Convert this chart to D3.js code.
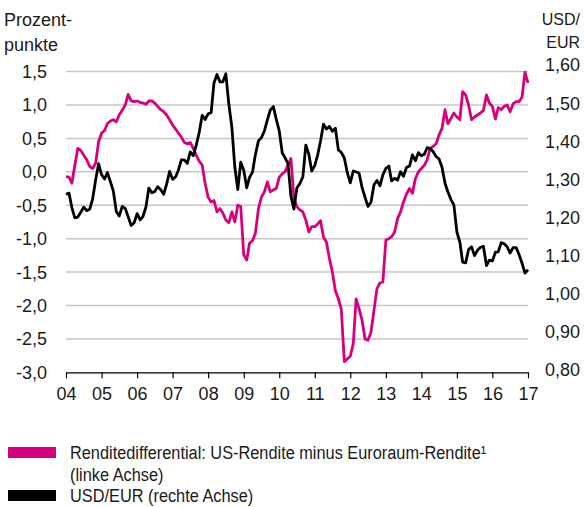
<!DOCTYPE html>
<html>
<head>
<meta charset="utf-8">
<script src="https://cdn.jsdelivr.net/npm/d3@7"></script>
<style>
  body { margin: 0; background: #fff; }
  text { font-family: "Liberation Sans", Arial, sans-serif; fill: #1a1a1a; }
</style>
</head>
<body>
<div id="container"></div>
<script>
// monthly values, Jan 2004 .. Jan 2017
const startYear = 2004

const spread = [
  -0.07, -0.08, -0.17, 0.10, 0.35, 0.32, 0.25, 0.18, 0.08, 0.05, 0.13, 0.45,
  0.58, 0.62, 0.72, 0.76, 0.78, 0.75, 0.85, 0.92, 1.00, 1.16, 1.06, 1.05,
  1.06, 1.04, 1.03, 1.01, 1.06, 1.06, 1.03, 0.98, 0.93, 0.90, 0.85, 0.78,
  0.70, 0.64, 0.58, 0.52, 0.44, 0.42, 0.44, 0.35, 0.25, 0.16, 0.10, -0.17,
  -0.38, -0.45, -0.43, -0.60, -0.55, -0.62, -0.72, -0.76, -0.60, -0.75, -0.50, -0.52,
  -1.24, -1.32, -1.07, -1.03, -0.92, -0.55, -0.38, -0.30, -0.15, -0.30, -0.27, -0.25,
  -0.08, -0.03, 0.00, 0.10, 0.20, -0.40, -0.52, -0.57, -0.60, -0.72, -0.90, -0.82,
  -0.82, -0.78, -0.73, -0.98, -1.05, -1.30, -1.50, -1.78, -1.90, -2.06, -2.84, -2.80,
  -2.76, -2.57, -1.90, -2.05, -2.22, -2.50, -2.52, -2.40, -2.07, -1.75, -1.66, -1.65,
  -1.02, -1.00, -0.97, -0.90, -0.70, -0.60, -0.45, -0.33, -0.25, -0.32, -0.10, 0.00,
  0.05, 0.10, 0.18, 0.35, 0.38, 0.42, 0.55, 0.65, 0.93, 0.72, 0.80, 0.88,
  0.82, 0.78, 1.20, 1.15, 1.00, 0.78, 0.82, 0.85, 0.88, 0.92, 1.15, 1.03,
  0.98, 0.79, 0.96, 0.93, 0.98, 1.00, 0.90, 1.02, 1.05, 1.05, 1.12, 1.49,
  1.33
]

const usdEur = [
  1.261, 1.264, 1.226, 1.199, 1.201, 1.214, 1.227, 1.218, 1.222, 1.249, 1.299, 1.341,
  1.312, 1.301, 1.318, 1.294, 1.270, 1.216, 1.204, 1.229, 1.224, 1.202, 1.179, 1.186,
  1.210, 1.194, 1.202, 1.227, 1.277, 1.265, 1.268, 1.281, 1.273, 1.261, 1.288, 1.321,
  1.300, 1.307, 1.324, 1.351, 1.351, 1.342, 1.372, 1.362, 1.390, 1.423, 1.468, 1.457,
  1.472, 1.475, 1.553, 1.575, 1.556, 1.556, 1.577, 1.497, 1.437, 1.333, 1.273, 1.345,
  1.324, 1.278, 1.305, 1.319, 1.365, 1.401, 1.409, 1.427, 1.456, 1.482, 1.491, 1.458,
  1.427, 1.369, 1.357, 1.341, 1.256, 1.222, 1.277, 1.289, 1.307, 1.390, 1.366, 1.322,
  1.336, 1.365, 1.400, 1.445, 1.432, 1.439, 1.426, 1.434, 1.377, 1.371, 1.356, 1.318,
  1.291, 1.322, 1.320, 1.316, 1.279, 1.253, 1.229, 1.240, 1.286, 1.297, 1.283, 1.312,
  1.329, 1.335, 1.296, 1.303, 1.298, 1.320, 1.308, 1.331, 1.335, 1.364, 1.349, 1.370,
  1.362, 1.366, 1.383, 1.381, 1.373, 1.360, 1.354, 1.332, 1.290, 1.267, 1.247, 1.233,
  1.162, 1.135, 1.083, 1.081, 1.116, 1.123, 1.100, 1.114, 1.122, 1.124, 1.074, 1.088,
  1.086, 1.109, 1.110, 1.134, 1.131, 1.123, 1.107, 1.121, 1.121, 1.103, 1.080, 1.054,
  1.063
]

const leftTicks = [1.5, 1.0, 0.5, 0.0, -0.5, -1.0, -1.5, -2.0, -2.5, -3.0]
const rightTicks = [1.6, 1.5, 1.4, 1.3, 1.2, 1.1, 1.0, 0.9, 0.8]
const yearTicks = d3.range(2004, 2018)

const legendItems = [
  { lines: ["Renditedifferential: US-Rendite minus Euroraum-Rendite\u00b9", "(linke Achse)"], color: "#d6007f" },
  { lines: ["USD/EUR (rechte Achse)"], color: "#000000" }
]

const pink = "#d6007f"
const width = 584, height = 507

const svg = d3.select('#container').append('svg')
    .attr('width', width).attr('height', height)

const x = d3.scaleTime()
    .domain([new Date(2004, 0, 1), new Date(2017, 0, 1)])
    .range([66, 528])
const yL = d3.scaleLinear().domain([-3, 1.5]).range([372.3, 71.6])
const yR = d3.scaleLinear().domain([0.8, 1.6]).range([370, 65])

const fmt1 = v => d3.format(".1f")(v).replace(".", ",").replace("\u2212", "-")
const fmt2 = v => d3.format(".2f")(v).replace(".", ",")

// gridlines
svg.append("g")
    .selectAll("line")
    .data(leftTicks.filter(d => d > -3))
    .join("line")
    .attr("x1", x.range()[0]).attr("x2", x.range()[1])
    .attr("y1", d => yL(d)).attr("y2", d => yL(d))
    .attr("stroke", "#c6c6c6").attr("stroke-width", 1.5)

// left axis labels
svg.append("g")
    .selectAll("text")
    .data(leftTicks)
    .join("text")
    .attr("x", 47).attr("y", d => yL(d))
    .attr("dy", "0.36em")
    .attr("text-anchor", "end")
    .style("font-size", "18px")
    .text(fmt1)

// right axis labels
svg.append("g")
    .selectAll("text")
    .data(rightTicks)
    .join("text")
    .attr("x", 580).attr("y", d => yR(d))
    .attr("dy", "0.36em")
    .attr("text-anchor", "end")
    .style("font-size", "18px")
    .text(fmt2)

// x axis
const xAxis = d3.axisBottom(x)
    .tickValues(yearTicks.map(y => new Date(y, 0, 1)))
    .tickSize(6)
    .tickSizeOuter(0)
    .tickFormat(d3.timeFormat("%y"))
const gx = svg.append("g").attr("transform", `translate(0,${yL(-3)})`).call(xAxis)
gx.select(".domain").attr("stroke", "#000").attr("stroke-width", 1.2)
gx.selectAll(".tick line").attr("stroke", "#000").attr("stroke-width", 1.2)
gx.selectAll(".tick text")
    .attr("y", 15)
    .style("font-size", "18px")
    .style("font-family", "'Liberation Sans', Arial, sans-serif")
    .attr("fill", "#1a1a1a")

// axis titles
const titleL = svg.append("text").style("font-size", "18px")
titleL.append("tspan").attr("x", 4).attr("y", 26).text("Prozent-")
titleL.append("tspan").attr("x", 4).attr("y", 51).text("punkte")
const titleR = svg.append("text").style("font-size", "16px").attr("text-anchor", "end")
titleR.append("tspan").attr("x", 580).attr("y", 25).text("USD/")
titleR.append("tspan").attr("x", 580).attr("y", 48).text("EUR")

// lines
const date = i => new Date(startYear, i, 1)

const blackLine = d3.line()
    .x((d, i) => x(date(i)))
    .y(d => yR(d))
const pinkLine = d3.line()
    .x((d, i) => x(date(i)))
    .y(d => yL(d))

svg.append("path")
    .attr("d", pinkLine(spread))
    .attr("fill", "none")
    .attr("stroke", pink)
    .attr("stroke-width", 2.8)
    .attr("stroke-linejoin", "round")

svg.append("path")
    .attr("d", blackLine(usdEur))
    .attr("fill", "none")
    .attr("stroke", "#000")
    .attr("stroke-width", 2.8)
    .attr("stroke-linejoin", "round")

// legend (condensed text, squeezed horizontally)
const legendY = [447, 490]
legendItems.forEach((item, i) => {
    const g = svg.append("g").attr("transform", `translate(8,${legendY[i]})`)
    g.append("rect").attr("width", 48).attr("height", 11).attr("fill", item.color)
    const t = g.append("text")
        .attr("transform", "translate(62,0) scale(0.86,1)")
        .style("font-size", "19px")
    item.lines.forEach((line, j) => {
        t.append("tspan").attr("x", 0).attr("y", 12 + j * 22).text(line)
    })
})
</script>
</body>
</html>
